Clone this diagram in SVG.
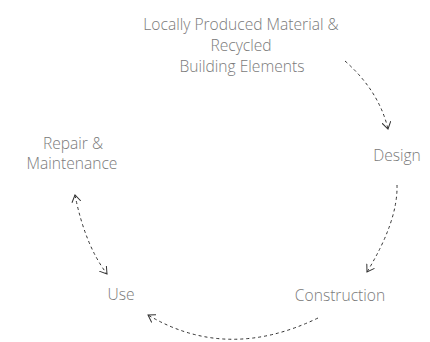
<svg xmlns="http://www.w3.org/2000/svg" width="430" height="342" viewBox="0 0 430 342">
<style>
text{font-family:"Open Sans",Lato,"Liberation Sans",sans-serif;font-weight:300;font-size:15.6px;fill:#7a7a7a;text-anchor:middle}
.c{fill:none;stroke:#333;stroke-width:1;stroke-dasharray:3 3}
</style>
<defs>
<marker id="ah" viewBox="0 0 8 10" refX="7" refY="5" markerWidth="8" markerHeight="10" markerUnits="userSpaceOnUse" orient="auto-start-reverse">
<path d="M0,0.5 L7,5 L0,9.5" fill="none" stroke="#333" stroke-width="1"/>
</marker>
</defs>
<rect width="430" height="342" fill="#fff"/>
<g id="n-material"><text x="241" y="30">Locally Produced Material &amp;</text><text x="241" y="51">Recycled</text><text x="242" y="72">Building Elements</text></g>
<g id="n-design"><text x="397" y="161">Design</text></g>
<g id="n-construction"><text x="340" y="301">Construction</text></g>
<g id="n-use"><text x="121" y="300">Use</text></g>
<g id="n-repair"><text x="73" y="149">Repair &amp;</text><text x="72" y="169">Maintenance</text></g>
<g id="connectors">
<path class="c" d="M345,61 Q379,91 388,129" marker-end="url(#ah)"/>
<path class="c" d="M397,185 Q398,221 367,272" marker-end="url(#ah)"/>
<path class="c" d="M318,318 Q227,362 148,315" marker-end="url(#ah)"/>
<path class="c" d="M75,195 Q85,245 107,274" marker-start="url(#ah)" marker-end="url(#ah)"/>
</g>
</svg>
